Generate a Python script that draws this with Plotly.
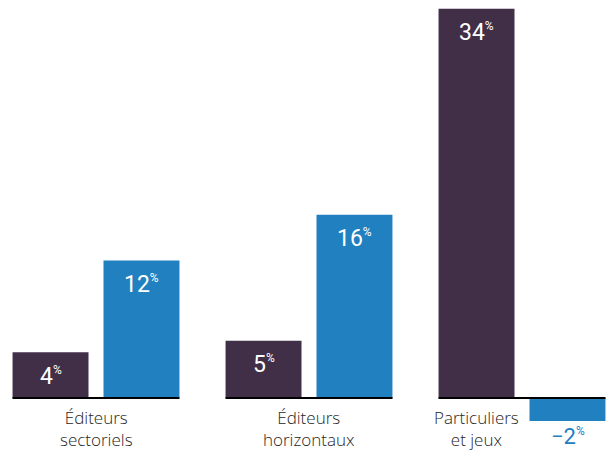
import plotly.graph_objects as go

categories = ["Éditeurs<br>sectoriels", "Éditeurs<br>horizontaux", "Particuliers<br>et jeux"]
cat_keys = ["g1", "g2", "g3"]
series_a = [4, 5, 34]
series_b = [12, 16, -2]

PURPLE = "#412f48"
BLUE = "#2180bf"
FONT = "'Open Sans', 'Noto Sans', sans-serif"
NUMFONT = "'Liberation Sans Narrow', 'Roboto', sans-serif"

fig = go.Figure()
fig.add_trace(go.Bar(x=cat_keys, y=series_a, marker=dict(color=PURPLE, line=dict(width=0)), hoverinfo="skip"))
fig.add_trace(go.Bar(x=cat_keys, y=series_b, marker=dict(color=BLUE, line=dict(width=0)), hoverinfo="skip"))

px_per_cat = 213.0
slot = 91.0
annotations = []
shapes = []


def pct(v):
    s = str(v) if v >= 0 else "\u2212" + str(abs(v))
    return s + "<sup><span style='font-size:12px'>%</span></sup>"


for i, k in enumerate(cat_keys):
    for j, (vals, col) in enumerate([(series_a, PURPLE), (series_b, BLUE)]):
        v = vals[i]
        off = (-slot / 2) if j == 0 else (slot / 2)
        if v >= 0:
            annotations.append(dict(x=k, y=v, xshift=off, yshift=-24, text=pct(v),
                                    showarrow=False, font=dict(family=NUMFONT, size=23, color="white"),
                                    xanchor="center", yanchor="middle"))
        else:
            annotations.append(dict(x=k, y=v, xshift=off, yshift=-16, text=pct(v),
                                    showarrow=False, font=dict(family=NUMFONT, size=22, color=col),
                                    xanchor="center", yanchor="middle"))
    # baseline under each group
    half = 83.5 / px_per_cat
    shapes.append(dict(type="line", xref="x", yref="y", x0=i - half, x1=i + half, y0=0, y1=0,
                       line=dict(color="black", width=2), layer="above"))
    # category label
    lab_shift = 0 if series_b[i] >= 0 else -slot / 2
    annotations.append(dict(x=k, y=0, yshift=-6, xshift=lab_shift, text=categories[i], showarrow=False,
                            font=dict(family=FONT, size=17, color="#262626", weight=300),
                            xanchor="center", yanchor="top", align="center"))

x0 = -96.0 / px_per_cat
fig.update_layout(
    width=606, height=450,
    margin=dict(l=0, r=0, t=0, b=0),
    paper_bgcolor="white", plot_bgcolor="white",
    showlegend=False,
    barmode="group", bargap=0.146, bargroupgap=0.165,
    xaxis=dict(range=[x0, x0 + 606.0 / px_per_cat], visible=False, fixedrange=True),
    yaxis=dict(range=[-52.0 / 11.45, 398.0 / 11.45], visible=False, fixedrange=True),
    annotations=annotations,
    shapes=shapes,
)
fig.write_html("out.html", config={"displayModeBar": False},
               post_script="document.body.style.margin='0';document.body.style.overflow='hidden';")
